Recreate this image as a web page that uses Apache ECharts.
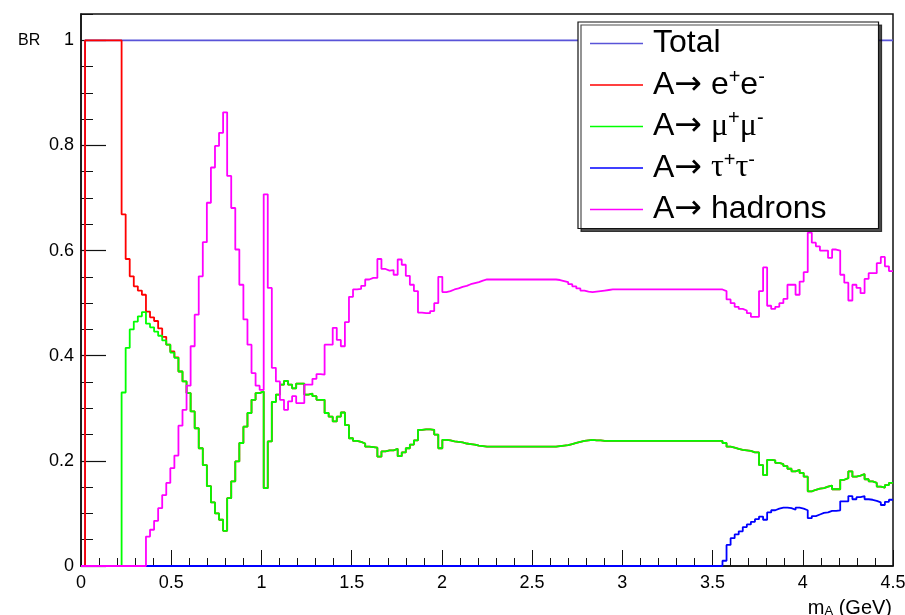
<!DOCTYPE html>
<html>
<head>
<meta charset="utf-8">
<script src="https://cdn.jsdelivr.net/npm/echarts@6/dist/echarts.min.js"></script>
<style>
html,body{margin:0;padding:0;background:#fff;}
#chart{width:905px;height:615px;}
</style>
</head>
<body>
<div id="chart"></div>
<script>
// ---- Data (histogram: 200 bins from 0 to 4.5 GeV) ----
const binWidth = 0.0225;
const nBins = 200;

const seriesNames = ['Total', 'A→ e+e-', 'A→ μ+μ-', 'A→ τ+τ-', 'A→ hadrons'];

const brTotal = [
0,1,1,1,1,1,1,1,1,1,
1,1,1,1,1,1,1,1,1,1, 1,1,1,1,1,1,1,1,1,1, 1,1,1,1,1,1,1,1,1,1, 1,1,1,1,1,1,1,1,1,1,
1,1,1,1,1,1,1,1,1,1, 1,1,1,1,1,1,1,1,1,1, 1,1,1,1,1,1,1,1,1,1, 1,1,1,1,1,1,1,1,1,1,
1,1,1,1,1,1,1,1,1,1, 1,1,1,1,1,1,1,1,1,1, 1,1,1,1,1,1,1,1,1,1, 1,1,1,1,1,1,1,1,1,1,
1,1,1,1,1,1,1,1,1,1, 1,1,1,1,1,1,1,1,1,1, 1,1,1,1,1,1,1,1,1,1, 1,1,1,1,1,1,1,1,1,1,
1,1,1,1,1,1,1,1,1,1, 1,1,1,1,1,1,1,1,1,1, 1,1,1,1,1,1,1,1,1,1, 1,1,1,1,1,1,1,1,1,1,
1,1,1,1,1,1,1,1,1,1
];

const brEE = [
0,1,1,1,1,1,1,1,1,1,
0.669,0.584,0.551,0.532,0.524,0.516,0.484,0.473,0.466,0.452,
0.436,0.421,0.408,0.397,0.370,0.351,0.329,0.294,0.262,0.224,
0.192,0.152,0.121,0.100,0.088,0.067,0.129,0.161,0.199,0.234,
0.265,0.291,0.316,0.329,0.332,0.148,0.237,0.312,0.326,0.345,
0.352,0.345,0.338,0.347,0.347,0.326,0.328,0.323,0.316,0.316,
0.291,0.284,0.275,0.284,0.292,0.268,0.243,0.238,0.236,0.233,
0.227,0.226,0.225,0.208,0.218,0.220,0.220,0.223,0.209,0.216,
0.224,0.231,0.239,0.259,0.260,0.260,0.259,0.250,0.224,0.240,
0.239,0.237,0.236,0.235,0.233,0.232,0.231,0.229,0.228,0.227,
0.227,0.227,0.227,0.227,0.227,0.227,0.227,0.227,0.227,0.227,
0.227,0.227,0.227,0.227,0.227,0.227,0.227,0.228,0.229,0.230,
0.232,0.234,0.236,0.238,0.239,0.240,0.239,0.239,0.238,0.238,
0.238,0.238,0.238,0.238,0.238,0.238,0.238,0.238,0.238,0.238,
0.238,0.238,0.238,0.238,0.238,0.238,0.238,0.238,0.238,0.238,
0.238,0.238,0.238,0.238,0.238,0.238,0.238,0.238,0.234,0.227,
0.225,0.223,0.221,0.220,0.219,0.216,0.216,0.192,0.173,0.202,
0.201,0.196,0.194,0.190,0.185,0.180,0.183,0.177,0.170,0.142,
0.145,0.147,0.148,0.151,0.153,0.146,0.146,0.164,0.167,0.180,
0.170,0.172,0.175,0.165,0.161,0.158,0.151,0.149,0.154,0.158
];

const brMuMu = [
0,0,0,0,0,0,0,0,0,0,
0.330,0.415,0.450,0.465,0.475,0.483,0.461,0.454,0.446,0.438,
0.429,0.421,0.406,0.396,0.370,0.351,0.329,0.294,0.262,0.224,
0.192,0.152,0.121,0.100,0.088,0.067,0.129,0.161,0.199,0.234,
0.265,0.291,0.316,0.329,0.332,0.148,0.237,0.312,0.326,0.345,
0.352,0.345,0.338,0.347,0.347,0.326,0.328,0.323,0.316,0.316,
0.291,0.284,0.275,0.284,0.292,0.268,0.243,0.238,0.236,0.233,
0.227,0.226,0.225,0.208,0.218,0.220,0.220,0.223,0.209,0.216,
0.224,0.231,0.239,0.259,0.260,0.260,0.259,0.250,0.224,0.240,
0.239,0.237,0.236,0.235,0.233,0.232,0.231,0.229,0.228,0.227,
0.227,0.227,0.227,0.227,0.227,0.227,0.227,0.227,0.227,0.227,
0.227,0.227,0.227,0.227,0.227,0.227,0.227,0.228,0.229,0.230,
0.232,0.234,0.236,0.238,0.239,0.240,0.239,0.239,0.238,0.238,
0.238,0.238,0.238,0.238,0.238,0.238,0.238,0.238,0.238,0.238,
0.238,0.238,0.238,0.238,0.238,0.238,0.238,0.238,0.238,0.238,
0.238,0.238,0.238,0.238,0.238,0.238,0.238,0.238,0.234,0.227,
0.225,0.223,0.221,0.220,0.219,0.216,0.216,0.192,0.173,0.202,
0.201,0.196,0.194,0.190,0.185,0.180,0.183,0.177,0.170,0.142,
0.145,0.147,0.148,0.151,0.153,0.146,0.146,0.164,0.167,0.180,
0.170,0.172,0.175,0.165,0.161,0.158,0.151,0.149,0.154,0.158
];

const brTauTau = [
0,0,0,0,0,0,0,0,0,0, 0,0,0,0,0,0,0,0,0,0, 0,0,0,0,0,0,0,0,0,0, 0,0,0,0,0,0,0,0,0,0,
0,0,0,0,0,0,0,0,0,0, 0,0,0,0,0,0,0,0,0,0, 0,0,0,0,0,0,0,0,0,0, 0,0,0,0,0,0,0,0,0,0,
0,0,0,0,0,0,0,0,0,0, 0,0,0,0,0,0,0,0,0,0, 0,0,0,0,0,0,0,0,0,0, 0,0,0,0,0,0,0,0,0,0,
0,0,0,0,0,0,0,0,0,0, 0,0,0,0,0,0,0,0,0,0, 0,0,0,0,0,0,0,0,0,0,
0,0,0,0,0,0,0,0,0.010,0.040,
0.053,0.060,0.066,0.074,0.079,0.084,0.089,0.094,0.088,0.102,
0.106,0.109,0.111,0.111,0.110,0.107,0.111,0.109,0.106,0.091,
0.095,0.098,0.101,0.102,0.105,0.105,0.106,0.123,0.123,0.133,
0.127,0.131,0.133,0.127,0.126,0.124,0.121,0.116,0.122,0.126
];

const brHadrons = [
0,0,0,0,0,0,0,0,0,0,
0,0,0,0,0,0,0.056,0.069,0.086,0.110,
0.135,0.158,0.186,0.210,0.267,0.297,0.343,0.418,0.478,0.551,
0.616,0.691,0.758,0.799,0.824,0.863,0.742,0.681,0.602,0.535,
0.469,0.421,0.367,0.343,0.335,0.707,0.529,0.377,0.351,0.316,
0.297,0.313,0.323,0.310,0.310,0.345,0.345,0.356,0.365,0.364,
0.421,0.421,0.453,0.430,0.418,0.464,0.512,0.526,0.527,0.533,
0.545,0.548,0.548,0.584,0.565,0.562,0.563,0.554,0.583,0.573,
0.552,0.535,0.523,0.482,0.481,0.481,0.485,0.500,0.550,0.521,
0.523,0.526,0.528,0.531,0.533,0.536,0.538,0.540,0.543,0.545,
0.545,0.545,0.545,0.545,0.545,0.545,0.545,0.545,0.545,0.545,
0.545,0.545,0.545,0.545,0.545,0.545,0.545,0.544,0.542,0.540,
0.536,0.532,0.528,0.524,0.522,0.521,0.522,0.523,0.524,0.525,
0.526,0.526,0.526,0.526,0.526,0.526,0.526,0.526,0.526,0.526,
0.526,0.526,0.526,0.526,0.526,0.526,0.526,0.526,0.526,0.526,
0.526,0.526,0.526,0.526,0.526,0.526,0.526,0.526,0.523,0.507,
0.500,0.493,0.489,0.486,0.481,0.474,0.474,0.523,0.568,0.495,
0.489,0.493,0.500,0.508,0.535,0.535,0.516,0.541,0.559,0.634,
0.615,0.608,0.600,0.600,0.586,0.602,0.600,0.554,0.539,0.505,
0.535,0.529,0.519,0.546,0.557,0.557,0.576,0.588,0.570,0.561
];

const yTickLabels = ['0', '0.2', '0.4', '0.6', '0.8', '1'];
const seriesColors = ['#5954d8', '#ff0000', '#00ff00', '#0000ff', '#ff00ff'];
const seriesValues = [brTotal, brEE, brMuMu, brTauTau, brHadrons];

// ---- Build histogram step points (bin left edges + final right edge) ----
const binEdges = [];
for (let i = 0; i <= nBins; i++) binEdges.push(+(i * binWidth).toFixed(4));
function histPoints(values) {
  const pts = values.map((v, i) => [binEdges[i], v]);
  pts.push([binEdges[nBins], values[nBins - 1]]);
  return pts;
}

const FONT = 'Liberation Sans';
const legendLabels = {
  'Total': 'Total',
  'A→ e+e-': 'A{ar|→} e{sup|+}e{sup|-}',
  'A→ μ+μ-': 'A{ar|→} {gr|μ}{sup|+}{gr|μ}{sup|-}',
  'A→ τ+τ-': 'A{ar|→} {gr|τ}{sup|+}{gr|τ}{sup|-}',
  'A→ hadrons': 'A{ar|→} hadrons'
};

const chart = echarts.init(document.getElementById('chart'), null, {renderer: 'canvas'});
chart.setOption({
  animation: false,
  backgroundColor: '#fff',
  grid: {
    left: 81, top: 14, width: 812, height: 552,
    show: true, borderColor: '#111', borderWidth: 1.5, backgroundColor: 'transparent',
    outerBoundsMode: 'none', containLabel: false
  },
  xAxis: {
    type: 'value', min: 0, max: 4.5, interval: 0.5,
    axisLine: {show: true, onZero: false, lineStyle: {color: '#111', width: 1.5}},
    axisTick: {show: true, inside: true, length: 16, lineStyle: {color: '#111', width: 1}},
    minorTick: {show: true, splitNumber: 5, length: 8, lineStyle: {color: '#111', width: 1}},
    splitLine: {show: false}, minorSplitLine: {show: false},
    axisLabel: {show: true, fontSize: 18, fontFamily: FONT, color: '#000', margin: 8,
      formatter: v => String(+v.toFixed(1)), showMinLabel: true, showMaxLabel: true, hideOverlap: false}
  },
  yAxis: [{
    type: 'value', position: 'left', offset: 0, min: 0, max: 1.05, interval: 0.2,
    axisLine: {show: true, onZero: false, lineStyle: {color: '#111', width: 1.5}},
    axisTick: {show: true, inside: true, length: 25, lineStyle: {color: '#111', width: 1.2}},
    splitLine: {show: false},
    axisLabel: {show: true, fontSize: 18, fontFamily: FONT, color: '#000', margin: 7, hideOverlap: false,
      showMaxLabel: false,
      formatter: v => { const k = Math.round(v * 5); return (Math.abs(v * 5 - k) < 1e-6 && k <= 5) ? yTickLabels[k] : ''; }}
  }, {
    type: 'value', position: 'left', offset: 0, min: 0, max: 1.05, interval: 0.05,
    axisLine: {show: false},
    axisTick: {show: true, inside: true, length: 12, lineStyle: {color: '#111', width: 1}},
    splitLine: {show: false},
    axisLabel: {show: false}
  }],
  legend: {
    orient: 'vertical', left: 578, top: 22,
    padding: [3.5, 52, 1, 12], itemGap: 5.5,
    itemWidth: 53, itemHeight: 1.5, icon: 'rect',
    backgroundColor: '#fff', borderColor: '#111', borderWidth: 1.2, borderRadius: 0,
    shadowColor: 'rgba(0,0,0,0.7)', shadowOffsetX: 3, shadowOffsetY: 3, shadowBlur: 0,
    selectedMode: false,
    data: seriesNames,
    formatter: n => legendLabels[n],
    textStyle: {
      fontSize: 32, fontFamily: FONT, color: '#000', lineHeight: 36, padding: [0, 0, 0, 5],
      rich: {
        sup: {fontSize: 20, fontFamily: FONT, color: '#000', lineHeight: 19, verticalAlign: 'top'},
        gr: {fontSize: 32, fontFamily: 'Liberation Serif', color: '#000', lineHeight: 36},
        ar: {fontSize: 33, fontFamily: 'DejaVu Sans', color: '#000', lineHeight: 36}
      }
    }
  },
  graphic: [
    {type: 'text', left: 18, top: 33, silent: true,
      style: {text: 'BR', fontSize: 16, fontFamily: FONT, fill: '#000'}},
    {type: 'text', x: 892, y: 618, silent: true,
      style: {text: 'm{s|A} (GeV)', fontSize: 20, fontFamily: FONT, fill: '#000', align: 'right', verticalAlign: 'bottom',
        rich: {s: {fontSize: 13, fontFamily: FONT, fill: '#000', verticalAlign: 'bottom', lineHeight: 12}}}}
  ],
  series: seriesNames.map((name, idx) => ({
    name: name,
    type: 'line',
    step: 'end',
    xAxisIndex: 0, yAxisIndex: 0,
    symbol: 'none',
    color: seriesColors[idx],
    lineStyle: {color: seriesColors[idx], width: 1.8},
    data: histPoints(seriesValues[idx]),
    silent: true,
    z: 2 + idx * 0.01
  }))
});
</script>
</body>
</html>
